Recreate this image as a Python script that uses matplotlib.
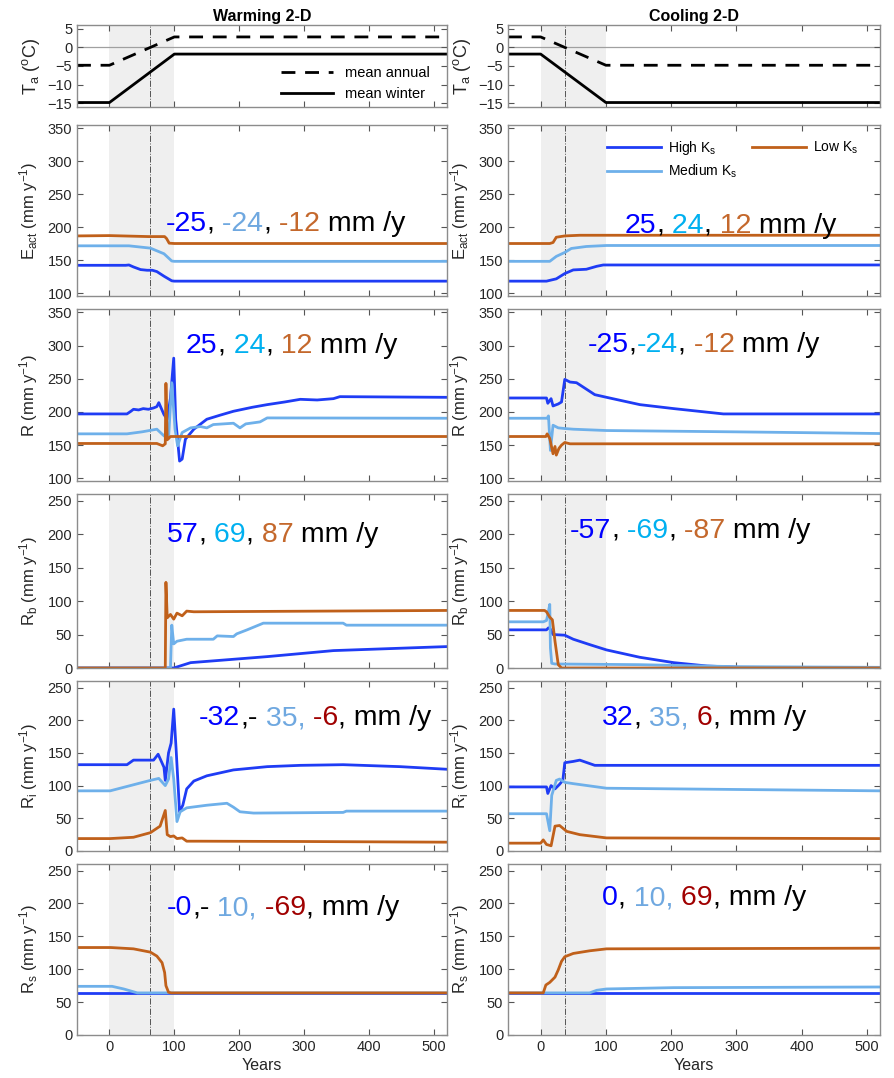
import numpy as np
import matplotlib
matplotlib.use('Agg')
import matplotlib.pyplot as plt

plt.rcParams['font.family'] = ['Liberation Sans', 'DejaVu Sans']
plt.rcParams['mathtext.fontset'] = 'custom'
plt.rcParams['mathtext.rm'] = 'Liberation Sans'
plt.rcParams['mathtext.it'] = 'Liberation Sans:italic'
plt.rcParams['mathtext.bf'] = 'Liberation Sans:bold'

# ---- data: (year, value) pairs ----
# air temperature
warm_T_annual = [(-50, -4.8), (0, -4.8), (100, 2.8), (520, 2.8)]
warm_T_winter = [(-50, -14.8), (0, -14.8), (100, -1.8), (520, -1.8)]
cool_T_annual = [(-50, 2.8), (0, 2.8), (100, -4.8), (520, -4.8)]
cool_T_winter = [(-50, -1.8), (0, -1.8), (100, -14.8), (520, -14.8)]
warm_cross = 63
cool_cross = 37

# actual evapotranspiration
warm_E_high = [(-50, 142.5), (25, 142.5), (30, 143), (37, 140), (48, 136), (58, 135), (66, 135), (73, 133),
               (84, 126), (96, 119), (100, 118.5), (520, 118.5)]
warm_E_med = [(-50, 172), (30, 172), (63, 168.5), (84, 160), (96, 149), (100, 148.5), (520, 148.5)]
warm_E_low = [(-50, 187), (0, 187.5), (60, 186), (85, 186), (88, 183), (92, 176), (100, 175.5), (520, 175.5)]
cool_E_high = [(-50, 118.5), (9, 118.5), (24, 122), (37, 130), (50, 135.5), (70, 136.5),
               (86, 141), (96, 143), (520, 143)]
cool_E_med = [(-50, 148.5), (14, 148.5), (24, 156), (37, 162), (47, 168), (70, 171), (101, 172.5), (520, 172.5)]
cool_E_low = [(-50, 175.5), (14, 175.5), (19, 177), (24, 185), (37, 187), (60, 188), (520, 188)]

# recharge R
warm_R_high = [(-50, 197), (27, 197), (33, 201), (37, 204), (45, 203), (52, 205), (60, 204), (68, 206), (73, 208),
               (76, 214), (84, 196), (89, 189), (94, 221), (99, 281), (102, 189), (108, 126), (112, 129),
               (117, 159), (130, 174), (150, 189), (170, 195), (191, 201), (220, 207), (243, 211),
               (270, 215), (294, 219), (320, 218), (345, 220), (355, 223), (520, 222)]
warm_R_med = [(-50, 167), (27, 167), (50, 170), (73, 174), (84, 164), (91, 160), (96, 244), (101, 174),
              (105, 149), (112, 169), (125, 176), (140, 178), (150, 176), (160, 181), (191, 183), (201, 176),
              (210, 182), (232, 185), (243, 191), (520, 190.5)]
warm_R_low = [(-50, 152.5), (73, 152.5), (82, 149), (86, 152), (87, 243), (89, 158), (94, 163), (520, 163)]
cool_R_high = [(-50, 221), (9, 221), (11, 213), (16, 220), (19, 209), (27, 212), (32, 215), (37, 249),
               (45, 245), (55, 244), (83, 226), (101, 222), (152, 211), (204, 205), (280, 197), (520, 197)]
cool_R_med = [(-50, 190.5), (10, 190.5), (12, 194), (15, 142), (19, 180), (27, 176), (37, 175),
              (50, 174), (101, 172), (300, 170), (520, 167.5)]
cool_R_low = [(-50, 163), (8, 163), (10, 167), (14, 160), (19, 137), (22, 148), (24, 135), (28, 145),
              (32, 150), (37, 154), (45, 152), (520, 152)]

# base flow R_b
warm_Rb_high = [(-50, 0), (99, 0), (125, 8), (243, 17), (345, 26), (520, 32)]
warm_Rb_med = [(-50, 0), (94, 0), (96, 64), (99, 36), (104, 40), (119, 43), (160, 43), (166, 48), (191, 47),
               (196, 51), (212, 57), (237, 67), (360, 67), (365, 64), (520, 64)]
warm_Rb_low = [(-50, 0), (86, 0), (87, 128), (89, 75), (94, 80), (99, 73), (104, 82), (112, 78),
               (119, 85), (130, 84), (520, 86)]
cool_Rb_high = [(-50, 57), (9, 57), (12, 60), (15, 58), (19, 50), (37, 49), (50, 43), (75, 35), (101, 27),
                (152, 16), (204, 8), (255, 3), (306, 1), (520, 0.5)]
cool_Rb_med = [(-50, 69), (4, 69), (9, 71), (11, 80), (14, 95), (15, 30), (17, 7), (22, 6), (150, 5),
               (300, 2), (520, 1)]
cool_Rb_low = [(-50, 86), (6, 86), (9, 84), (14, 76), (18, 72), (22, 40), (27, 5), (32, 0), (520, 0)]

# interflow R_i
warm_Ri_high = [(-50, 132), (27, 132), (37, 139), (68, 139), (75, 148), (84, 128), (86, 108), (91, 150),
                (95, 165), (99, 217), (103, 150), (108, 60), (113, 70), (119, 95), (130, 107), (150, 115),
                (191, 124), (243, 129), (294, 131), (360, 132), (448, 129), (520, 125)]
warm_Ri_med = [(-50, 92), (1, 92), (63, 108), (76, 111), (86, 100), (91, 110), (95, 143), (99, 110),
               (104, 45), (109, 60), (119, 66), (150, 70), (181, 73), (191, 67), (201, 60), (222, 58),
               (360, 59), (365, 61), (520, 61)]
warm_Ri_low = [(-50, 19), (1, 19), (37, 21), (63, 28), (78, 38), (86, 62), (89, 25), (94, 22), (99, 23),
               (104, 19), (112, 20), (119, 15), (140, 15), (300, 14.5), (520, 13.5)]
cool_Ri_high = [(-50, 98), (9, 98), (11, 88), (16, 100), (22, 95), (29, 102), (34, 108), (37, 135),
                (50, 137), (60, 139), (83, 131), (520, 131)]
cool_Ri_med = [(-50, 57), (9, 57), (14, 31), (17, 85), (24, 108), (29, 110), (37, 105), (50, 103),
               (101, 96), (520, 92)]
cool_Ri_low = [(-50, 12), (0, 12), (4, 17), (9, 10), (16, 8), (22, 38), (29, 39), (40, 30), (60, 25),
               (101, 20), (520, 19)]

# surface runoff R_s
warm_Rs_high = [(-50, 64), (520, 64)]
warm_Rs_med = [(-50, 74), (4, 74), (22, 70), (43, 64), (520, 64)]
warm_Rs_low = [(-50, 133), (2, 133), (37, 131), (63, 126), (73, 120), (81, 110), (85, 95), (87, 75),
               (91, 65), (95, 64), (520, 64)]
cool_Rs_high = [(-50, 64), (520, 64)]
cool_Rs_med = [(-50, 64), (75, 64), (86, 68), (101, 70), (204, 72), (520, 73)]
cool_Rs_low = [(-50, 64), (4, 64), (8, 76), (14, 80), (22, 88), (27, 99), (32, 112), (37, 119), (50, 124),
               (75, 128), (101, 131), (520, 132)]

# change labels (text, colour key)
warm_notes = {
    'E': [('-25', 'b'), (',', 'k'), (' -24', 'lb'), (',', 'k'), (' -12', 'o'), (' mm /y', 'k')],
    'R': [('25', 'b'), (',', 'k'), (' 24', 'c'), (',', 'k'), (' 12', 'o'), (' mm /y', 'k')],
    'Rb': [('57', 'b'), (',', 'k'), (' 69', 'c'), (',', 'k'), (' 87', 'o'), (' mm /y', 'k')],
    'Ri': [('-32', 'b'), (',-', 'k'), (' 35,', 'lb'), (' -6', 'dr'), (', mm /y', 'k')],
    'Rs': [('-0', 'b'), (',-', 'k'), (' 10,', 'lb'), (' -69', 'dr'), (', mm /y', 'k')],
}
cool_notes = {
    'E': [('25', 'b'), (',', 'k'), (' 24', 'c'), (',', 'k'), (' 12', 'o'), (' mm /y', 'k')],
    'R': [('-25', 'b'), (',', 'k'), ('-24', 'c'), (',', 'k'), (' -12', 'o'), (' mm /y', 'k')],
    'Rb': [('-57', 'b'), (',', 'k'), (' -69', 'c'), (',', 'k'), (' -87', 'o'), (' mm /y', 'k')],
    'Ri': [('32', 'b'), (',', 'k'), (' 35,', 'lb'), (' 6', 'dr'), (', mm /y', 'k')],
    'Rs': [('0', 'b'), (',', 'k'), (' 10,', 'lb'), (' 69', 'dr'), (', mm /y', 'k')],
}
warm_note_pos = {'E': (86, 195), 'R': (118, 289), 'Rb': (88, 189), 'Ri': (138, 192), 'Rs': (88, 182)}
cool_note_pos = {'E': (129, 192), 'R': (72, 291), 'Rb': (45, 195), 'Ri': (94, 192), 'Rs': (94, 197)}

note_col = {'b': '#0000ff', 'c': '#00b0f0', 'lb': '#6fa8e0', 'o': '#c4682c', 'dr': '#a00000', 'k': 'black'}
c_high = '#1f3cf5'
c_med = '#6eb0ea'
c_low = '#c0601a'

W, H = 894, 1078
fig = plt.figure(figsize=(W / 100, H / 100), dpi=100)

cols = [(77, 447), (508, 880)]
rows = [(25, 107), (125, 296), (309, 481), (494, 668), (681, 851), (864, 1035)]


def make_ax(c, r):
    x0, x1 = cols[c]
    y0, y1 = rows[r]
    ax = fig.add_axes([x0 / W, 1 - y1 / H, (x1 - x0) / W, (y1 - y0) / H])
    ax.set_xlim(-50, 520)
    ax.set_xticks(np.arange(0, 501, 100))
    ax.tick_params(direction='in', top=True, right=True, length=4, width=0.8,
                   color='#555555', labelcolor='#262626', labelsize=10.5)
    for s in ax.spines.values():
        s.set_color('#8c8c8c')
        s.set_linewidth(1)
    if r < 5:
        ax.tick_params(labelbottom=False)
    else:
        ax.set_xlabel('Years', fontsize=11.5, color='#262626', labelpad=3)
    return ax


def rainbow(ax, x, y, parts, size=20.5):
    t = ax.text(x, y, parts[0][0], color=note_col[parts[0][1]], fontsize=size, va='baseline')
    for s, k in parts[1:]:
        t = ax.annotate(s, xy=(1, 0), xycoords=t, va='bottom', ha='left',
                        color=note_col[k], fontsize=size)


def draw(ax, pts, color, **kw):
    a = np.array(pts, dtype=float)
    ax.plot(a[:, 0], a[:, 1], color=color, lw=2, **kw)


sides = [
    dict(title='Warming 2-D', cross=warm_cross, T=(warm_T_annual, warm_T_winter),
         series={'E': (warm_E_high, warm_E_med, warm_E_low), 'R': (warm_R_high, warm_R_med, warm_R_low),
                 'Rb': (warm_Rb_high, warm_Rb_med, warm_Rb_low), 'Ri': (warm_Ri_high, warm_Ri_med, warm_Ri_low),
                 'Rs': (warm_Rs_high, warm_Rs_med, warm_Rs_low)},
         notes=warm_notes, pos=warm_note_pos),
    dict(title='Cooling 2-D', cross=cool_cross, T=(cool_T_annual, cool_T_winter),
         series={'E': (cool_E_high, cool_E_med, cool_E_low), 'R': (cool_R_high, cool_R_med, cool_R_low),
                 'Rb': (cool_Rb_high, cool_Rb_med, cool_Rb_low), 'Ri': (cool_Ri_high, cool_Ri_med, cool_Ri_low),
                 'Rs': (cool_Rs_high, cool_Rs_med, cool_Rs_low)},
         notes=cool_notes, pos=cool_note_pos),
]

keys = ['E', 'R', 'Rb', 'Ri', 'Rs']
ylabels = {'E': r'E$_\mathrm{act}$ (mm y$^\mathrm{-1}$)', 'R': r'R (mm y$^\mathrm{-1}$)',
           'Rb': r'R$_\mathrm{b}$ (mm y$^\mathrm{-1}$)', 'Ri': r'R$_\mathrm{i}$ (mm y$^\mathrm{-1}$)',
           'Rs': r'R$_\mathrm{s}$ (mm y$^\mathrm{-1}$)'}

for c, side in enumerate(sides):
    # temperature panel
    ax = make_ax(c, 0)
    ax.axvspan(0, 100, color='#efefef', zorder=0, lw=0)
    ax.axvline(side['cross'], color='#555555', lw=0.7, ls='-.', zorder=1)
    ax.axhline(0, color='#a0a0a0', lw=0.9, zorder=1)
    a = np.array(side['T'][0])
    ax.plot(a[:, 0], a[:, 1], 'k--', lw=2, dashes=(5, 3.5), label='mean annual')
    a = np.array(side['T'][1])
    ax.plot(a[:, 0], a[:, 1], 'k-', lw=2, label='mean winter')
    ax.set_ylim(-16, 6)
    ax.set_yticks([5, 0, -5, -10, -15])
    ax.set_ylabel(r'T$_\mathrm{a}$ ($^\mathrm{o}$C)', fontsize=13, color='#262626')
    ax.yaxis.set_label_coords(-0.095, 0.5)
    ax.set_title(side['title'], fontsize=11.5, fontweight='bold', pad=3)
    if c == 0:
        ax.legend(loc='upper left', bbox_to_anchor=(0.55, 0.50), frameon=False, fontsize=10.5,
                  handlelength=3.6, handletextpad=0.8, labelspacing=0.5, borderpad=0, borderaxespad=0)

    for r, key in enumerate(keys, start=1):
        ax = make_ax(c, r)
        ax.axvspan(0, 100, color='#efefef', zorder=0, lw=0)
        ax.axvline(side['cross'], color='#555555', lw=0.7, ls='-.', zorder=1)
        hi, me, lo = side['series'][key]
        draw(ax, hi, c_high, label=r'High K$_\mathrm{s}$')
        draw(ax, me, c_med, label=r'Medium K$_\mathrm{s}$')
        draw(ax, lo, c_low, label=r'Low K$_\mathrm{s}$')
        if key in ('E', 'R'):
            ax.set_ylim(96, 355)
            ax.set_yticks(np.arange(100, 351, 50))
        else:
            ax.set_ylim(0, 260)
            ax.set_yticks(np.arange(0, 251, 50))
        ax.set_ylabel(ylabels[key], fontsize=12, color='#262626')
        ax.yaxis.set_label_coords(-0.1, 0.5)
        px, py = side['pos'][key]
        rainbow(ax, px, py, side['notes'][key])
        if c == 1 and key == 'E':
            ax.legend(loc='upper left', bbox_to_anchor=(0.265, 0.92), ncol=2, frameon=False, fontsize=10,
                      handlelength=3.9, handletextpad=0.5, columnspacing=1.1, labelspacing=0.45,
                      borderpad=0, borderaxespad=0)

fig.savefig('out.png', dpi=100)
